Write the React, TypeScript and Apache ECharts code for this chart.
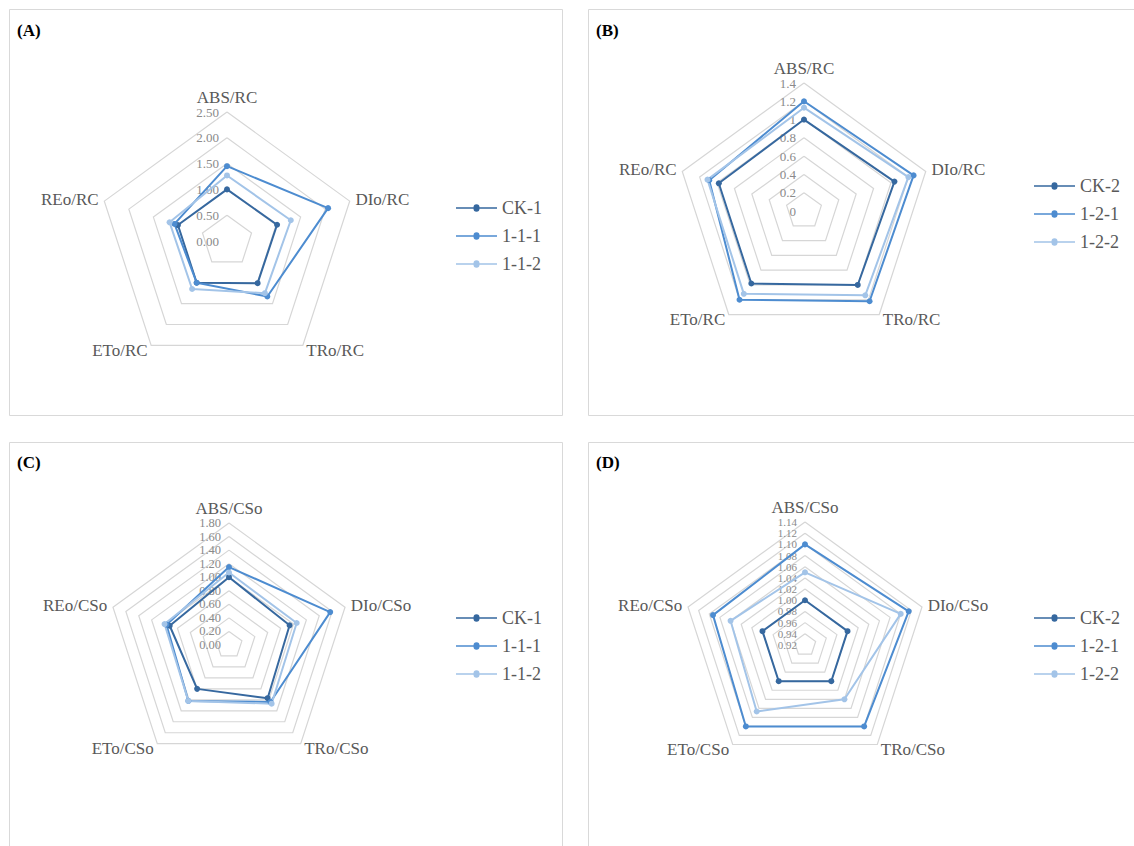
import React, { useEffect, useRef } from "react";
import * as echarts from "echarts";

// Indicator order as drawn by ECharts (counter-clockwise from top) so that DIo sits on the right
const axesRC = ["ABS/RC", "REo/RC", "ETo/RC", "TRo/RC", "DIo/RC"];
const axesCSo = ["ABS/CSo", "REo/CSo", "ETo/CSo", "TRo/CSo", "DIo/CSo"];

const namesA = ["CK-1", "1-1-1", "1-1-2"];
const namesB = ["CK-2", "1-2-1", "1-2-2"];

// Panel A (values in axesRC order)
const aCK1 = [1.0, 1.0, 1.0, 1.01, 1.02];
const a111 = [1.45, 1.07, 1.0, 1.33, 2.06];
const a112 = [1.27, 1.17, 1.15, 1.25, 1.3];
// Panel B
const bCK2 = [1.0, 0.98, 0.98, 1.0, 1.04];
const b121 = [1.2, 1.09, 1.2, 1.22, 1.26];
const b122 = [1.13, 1.11, 1.12, 1.14, 1.2];
// Panel C (values in axesCSo order)
const cCK1 = [1.0, 0.92, 0.8, 0.97, 0.94];
const c111 = [1.15, 0.97, 1.02, 1.04, 1.57];
const c112 = [1.07, 1.0, 1.02, 1.07, 1.05];
// Panel D
const dCK2 = [1.0, 1.0, 1.0, 1.0, 1.0];
const d121 = [1.1, 1.093, 1.1, 1.1, 1.115];
const d122 = [1.05, 1.06, 1.067, 1.04, 1.1];

// Axis ranges
const rangeA = { min: 0, max: 2.5, split: 5, digits: 2, fs: 13 };
const rangeB = { min: 0, max: 1.4, split: 7, digits: -1, fs: 13 };
const rangeC = { min: 0, max: 1.8, split: 9, digits: 2, fs: 12.5 };
const rangeD = { min: 0.92, max: 1.14, split: 11, digits: 2, fs: 11 };

const colors = ["#36689f", "#4d8cd0", "#a3c4e8"];
const FONT = "Liberation Serif";

const legendIcon =
  "path://M0,3.3 L17.5,3.3 A3,3 0 0 1 23.5,3.3 L41,3.3 L41,4.7 L23.5,4.7 A3,3 0 0 1 17.5,4.7 L0,4.7 Z";

// parity: if set, only tick labels whose index has this parity are written (a second,
// label-only radar on the same geometry writes the others, so none are dropped as overlapping)
function makeRadar(
  axes: string[],
  range: any,
  center: number[],
  radius: number,
  parity: number | null = null,
  labelsOnly = false
) {
  const step = (range.max - range.min) / range.split;
  return {
    center,
    radius,
    startAngle: 90,
    shape: "polygon",
    splitNumber: range.split,
    indicator: axes.map((name, i) =>
      i === 0
        ? { name: labelsOnly ? "" : name, min: range.min, max: range.max }
        : { name: labelsOnly ? "" : name, min: range.min, max: range.max, axisLabel: { show: false } }
    ),
    axisName: { show: !labelsOnly, color: "#595959", fontFamily: FONT, fontSize: 17 },
    nameGap: 6,
    axisLine: { show: false },
    axisTick: { show: false },
    axisLabel: {
      show: true,
      showMinLabel: true,
      showMaxLabel: true,
      hideOverlap: false,
      color: "#8a8a8a",
      fontFamily: FONT,
      fontSize: range.fs,
      formatter: (v: number) => {
        const idx = Math.round((v - range.min) / step);
        if (parity !== null && idx % 2 !== parity) return "";
        return range.digits < 0 ? String(Math.round(v * 10) / 10) : v.toFixed(range.digits);
      },
    },
    splitLine: { show: !labelsOnly, lineStyle: { color: "#d6d6d6", width: 1.2 } },
    splitArea: { show: false },
  };
}

function makeSeries(radarIndex: number, names: string[], values: number[][]) {
  return {
    type: "radar",
    radarIndex,
    symbol: "circle",
    symbolSize: 6,
    data: names.map((n, i) => ({
      name: n,
      value: values[i],
      lineStyle: { color: colors[i], width: 2 },
      itemStyle: { color: colors[i] },
    })),
  };
}

function makeLegend(names: string[], left: number, top: number) {
  return {
    data: names,
    orient: "vertical",
    left,
    top,
    icon: legendIcon,
    itemWidth: 41,
    itemHeight: 8,
    itemGap: 10,
    textStyle: { color: "#595959", fontFamily: FONT, fontSize: 18 },
  };
}

const panelLabels = [
  { text: "(A)", x: 17, y: 30 },
  { text: "(B)", x: 596, y: 30 },
  { text: "(C)", x: 17, y: 462 },
  { text: "(D)", x: 596, y: 462 },
];

export default function App() {
  const ref = useRef<HTMLDivElement>(null);
  useEffect(() => {
    document.body.style.margin = "0";
    const chart = echarts.init(ref.current!, undefined, { renderer: "svg" });
    const border = { stroke: "#d9d9d9", fill: "none", lineWidth: 1 };
    chart.setOption({
      animation: false,
      backgroundColor: "#ffffff",
      radar: [
        makeRadar(axesRC, rangeA, [227, 241], 129),
        makeRadar(axesRC, rangeB, [804, 211], 128),
        makeRadar(axesCSo, rangeC, [229, 645], 122),
        makeRadar(axesCSo, rangeD, [805, 645], 123, 0),
        makeRadar(axesCSo, rangeD, [805, 645], 123, 1, true),
      ],
      legend: [
        makeLegend(namesA, 451, 194),
        makeLegend(namesB, 1029, 172),
        makeLegend(namesA, 451, 604),
        makeLegend(namesB, 1029, 604),
      ],
      series: [
        makeSeries(0, namesA, [aCK1, a111, a112]),
        makeSeries(1, namesB, [bCK2, b121, b122]),
        makeSeries(2, namesA, [cCK1, c111, c112]),
        makeSeries(3, namesB, [dCK2, d121, d122]),
      ],
      graphic: [
        { type: "rect", shape: { x: 9.5, y: 9.5, width: 553, height: 406 }, style: border, silent: true },
        { type: "rect", shape: { x: 588.5, y: 9.5, width: 560, height: 406 }, style: border, silent: true },
        { type: "rect", shape: { x: 9.5, y: 442.5, width: 553, height: 420 }, style: border, silent: true },
        { type: "rect", shape: { x: 588.5, y: 442.5, width: 560, height: 420 }, style: border, silent: true },
        ...panelLabels.map((p) => ({
          type: "text",
          x: p.x,
          y: p.y,
          style: {
            text: p.text,
            fontFamily: FONT,
            fontWeight: "bold",
            fontSize: 17,
            fill: "#000000",
            verticalAlign: "middle",
          },
        })),
      ],
    });
    return () => chart.dispose();
  }, []);
  return <div ref={ref} style={{ width: 1134, height: 846 }} />;
}
